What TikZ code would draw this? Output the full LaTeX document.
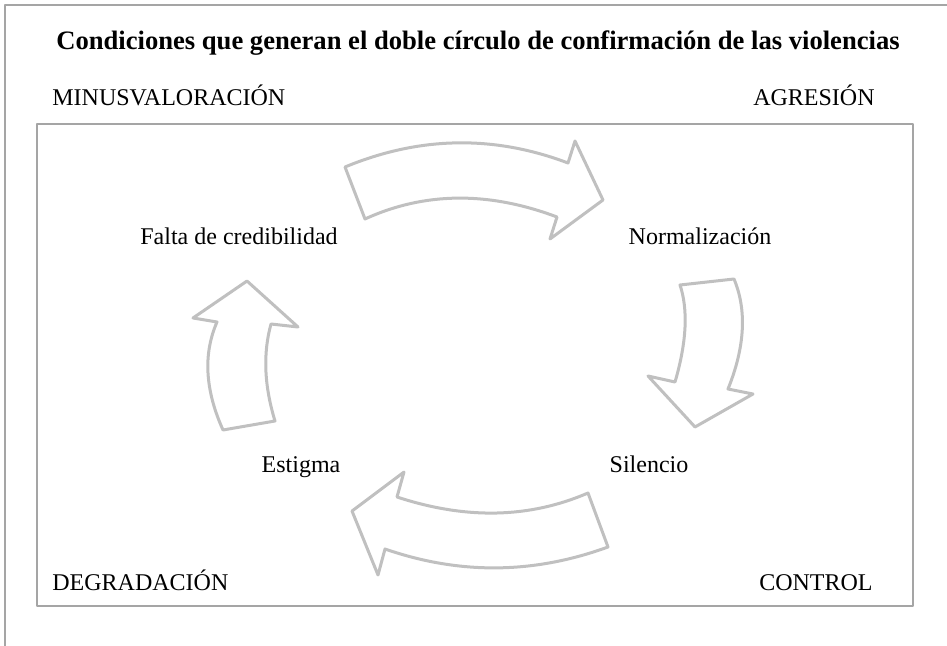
\documentclass[tikz,border=0pt]{standalone}
\usepackage{fontspec}
\setmainfont{Liberation Serif}
\definecolor{framegray}{RGB}{165,165,165}
\definecolor{arrowgray}{RGB}{192,192,192}

\begin{document}
\begin{tikzpicture}[x=0.5pt, y=-0.5pt, line join=round,
    lbl/.style={font=\fontsize{12}{14}\selectfont, inner sep=0pt, anchor=base},
    bigarrow/.style={draw=arrowgray, line width=1.5pt, fill=white}]
  \useasboundingbox (0,0) rectangle (947,646);
  \draw[framegray, line width=0.7pt] (947,5) -- (5,5) -- (5,646);   % outer frame
  \draw[framegray, line width=0.7pt] (37,124) rectangle (913,606);  % inner box

  \node[lbl, font=\fontsize{13.3}{16}\selectfont\bfseries] (title) at (478,50)
    {Condiciones que generan el doble círculo de confirmación de las violencias};

  % corner labels
  \node[lbl, anchor=base west] (minusval) at (52,106) {MINUSVALORACIÓN};
  \node[lbl, anchor=base east] (agresion) at (875,106) {AGRESIÓN};
  \node[lbl, anchor=base west] (degradacion) at (52,590) {DEGRADACIÓN};
  \node[lbl, anchor=base east] (control) at (873,590) {CONTROL};

  % cycle labels
  \foreach \x/\y/\name/\txt in {239/245/falta/Falta de credibilidad, 700/245/normal/Normalización,
                                649/472/silencio/Silencio, 301/472/estigma/Estigma} {
    \node[lbl] (\name) at (\x,\y) {\txt};
  }

  % block arrows
  \draw[bigarrow] (345,167) .. controls (420,136) and (494,135) .. (568,163) -- (575,141) -- (603,200)
    -- (550,239) -- (557,217) .. controls (488,191) and (424,192) .. (365,219) -- cycle;      % top
  \draw[bigarrow] (680,285) -- (734,279) .. controls (747,310) and (745,347) .. (728,389) -- (753,394)
    -- (695,427) -- (648,376) -- (675,382) .. controls (687,341) and (688,309) .. (680,285) -- cycle; % right
  \draw[bigarrow] (588,493) .. controls (530,518) and (467,520) .. (397,497) -- (404,472) -- (352,511)
    -- (378,575) -- (385,549) .. controls (460,575) and (534,574) .. (608,547) -- cycle;      % bottom
  \draw[bigarrow] (223,430) -- (275,421) .. controls (264,385) and (263,353) .. (271,324) -- (298,327)
    -- (247,281) -- (193,318) -- (217,322) .. controls (203,354) and (205,390) .. (223,430) -- cycle; % left
\end{tikzpicture}
\end{document}
